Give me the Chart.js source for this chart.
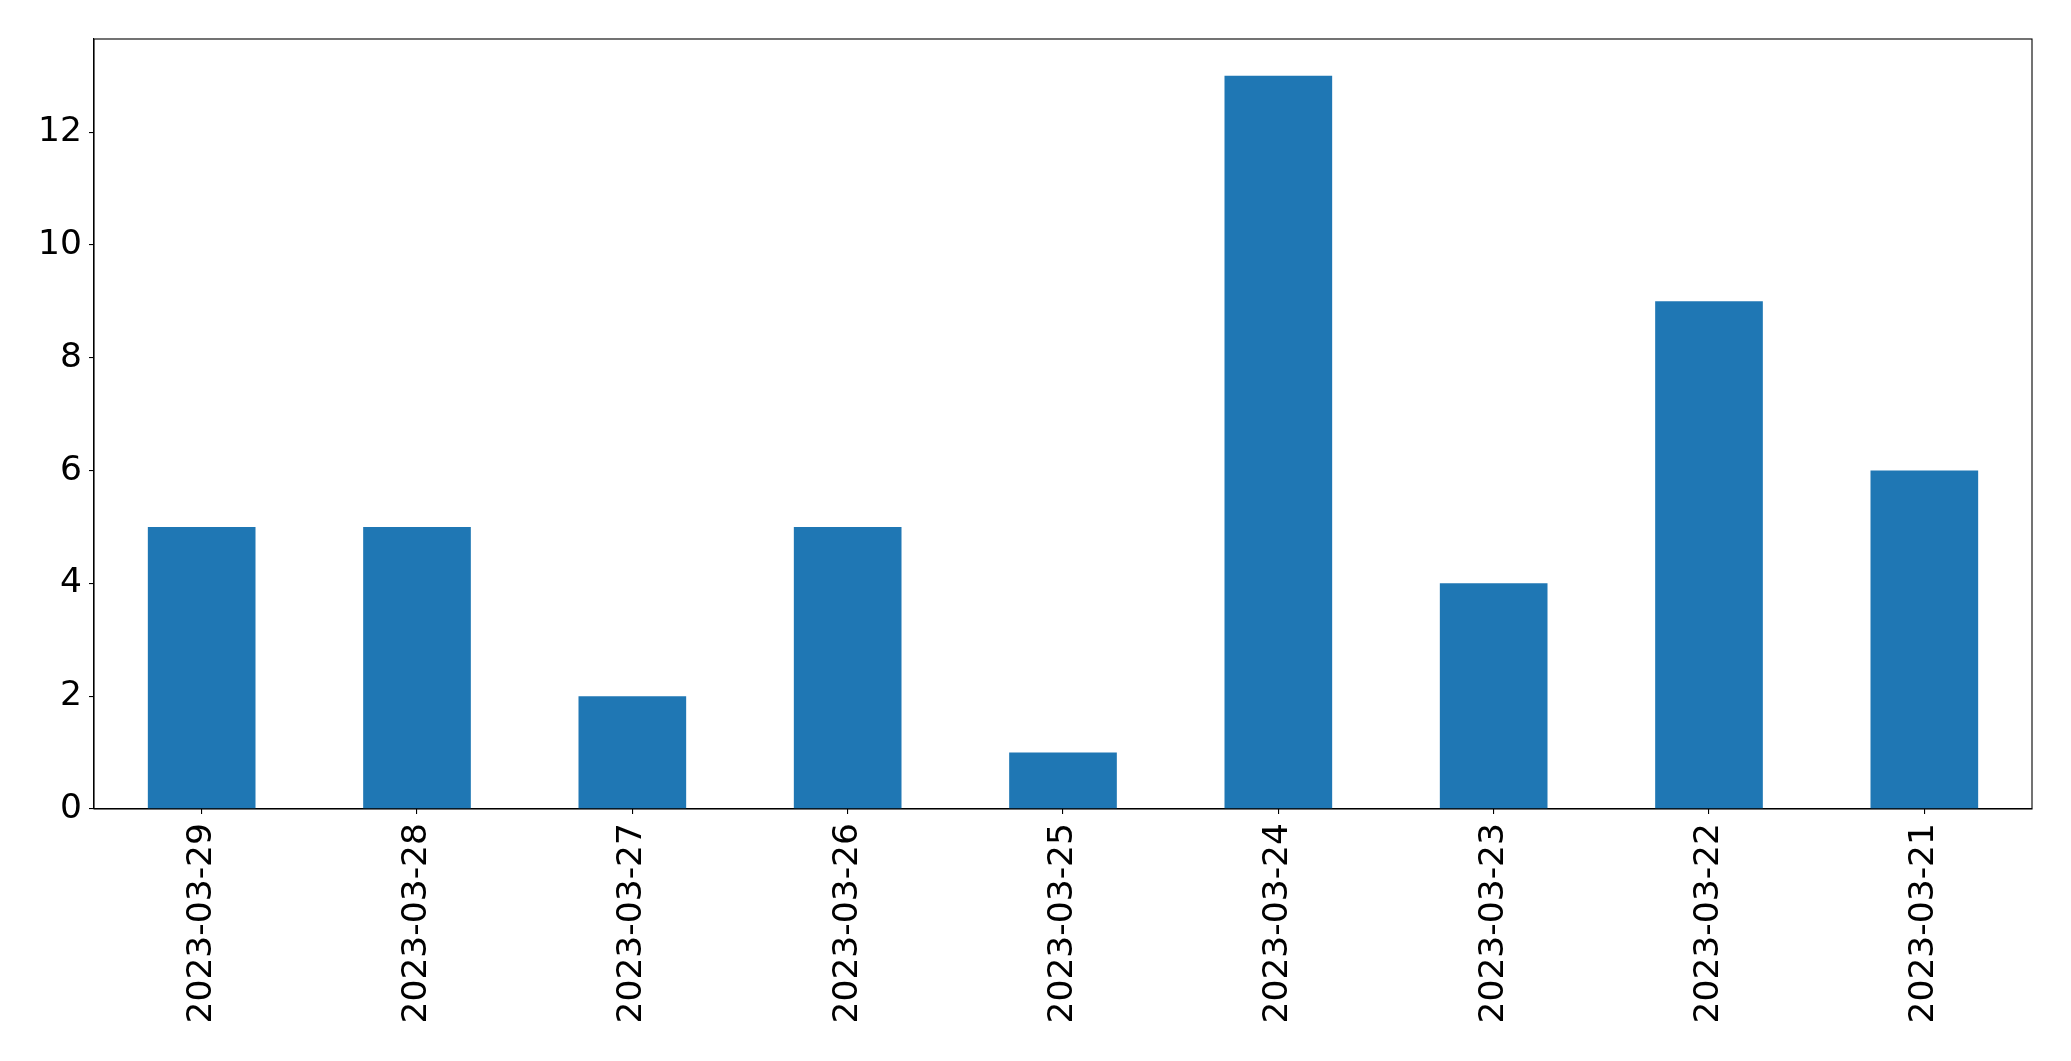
<!DOCTYPE html>
<html>
<head>
<meta charset="utf-8">
<script src="https://cdn.jsdelivr.net/npm/chart.js@4/dist/chart.umd.min.js"></script>
<style>
  html, body { margin: 0; padding: 0; background: #fff; }
  #chart { display: block; }
</style>
</head>
<body>
<canvas id="chart" width="2071" height="1061"></canvas>
<script>
// data
const dates = ['2023-03-29', '2023-03-28', '2023-03-27', '2023-03-26', '2023-03-25',
               '2023-03-24', '2023-03-23', '2023-03-22', '2023-03-21'];
const counts = [5, 5, 2, 5, 1, 13, 4, 9, 6];
const yMax = 13.65;   // 13 plus matplotlib's 5% margin
const yStep = 2;

const FONT = { family: 'DejaVu Sans', size: 34.5 };

// draws the full black frame around the plot area
const frame = {
  id: 'frame',
  afterDatasetsDraw(chart) {
    const a = chart.chartArea, ctx = chart.ctx;
    ctx.save();
    ctx.strokeStyle = '#000';
    ctx.lineWidth = 1.1;
    ctx.strokeRect(a.left, a.top, a.right - a.left, a.bottom - a.top);
    ctx.restore();
  }
};

new Chart(document.getElementById('chart').getContext('2d'), {
  type: 'bar',
  data: {
    labels: dates,
    datasets: [{
      data: counts,
      backgroundColor: '#1f77b4',
      borderWidth: 0,
      categoryPercentage: 1,
      barPercentage: 0.5
    }]
  },
  options: {
    responsive: false,
    animation: false,
    layout: { padding: { top: 39, right: 39, left: 0, bottom: 0 } },
    plugins: { legend: { display: false }, tooltip: { enabled: false } },
    scales: {
      x: {
        offset: true,
        grid: { offset: false, drawOnChartArea: false, drawTicks: true, tickLength: 5, color: '#000', lineWidth: 1.1 },
        border: { display: true, color: '#000', width: 1.1 },
        ticks: { color: '#000', font: FONT, minRotation: 90, maxRotation: 90, padding: 9, autoSkip: false },
        afterFit(scale) { scale.height = 252; }
      },
      y: {
        min: 0,
        max: yMax,
        grid: { drawOnChartArea: false, drawTicks: true, tickLength: 5, color: '#000', lineWidth: 1.1 },
        border: { display: true, color: '#000', width: 1.1 },
        ticks: { color: '#000', font: FONT, stepSize: yStep, includeBounds: false, padding: 7 },
        afterFit(scale) { scale.width = 94; }
      }
    }
  },
  plugins: [frame]
});
</script>
</body>
</html>
